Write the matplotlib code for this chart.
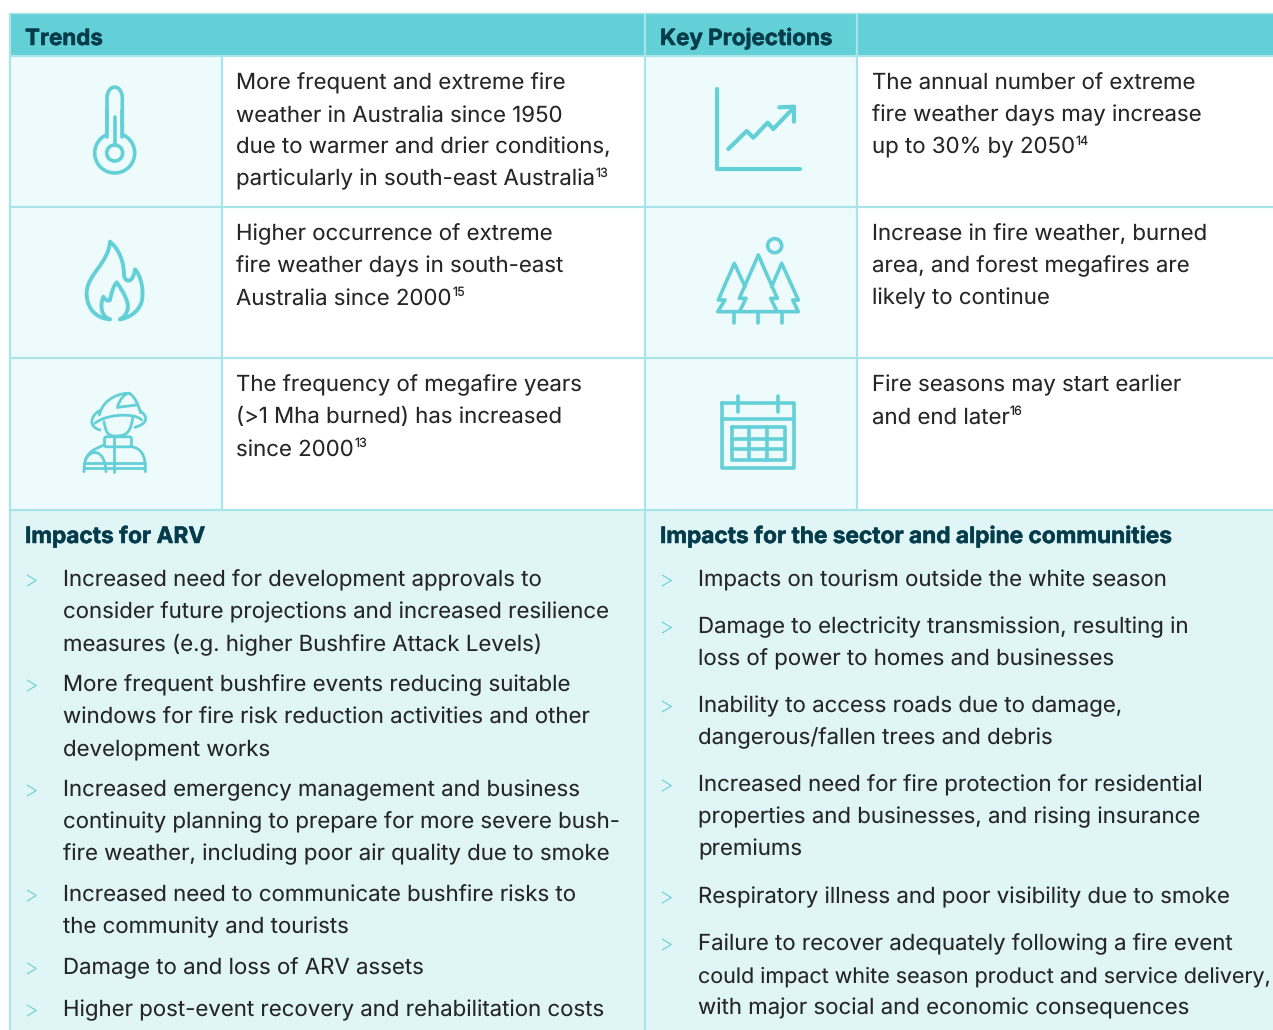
import matplotlib
matplotlib.use('Agg')
import matplotlib.pyplot as plt
from matplotlib.path import Path
from matplotlib.patches import PathPatch, Rectangle, Circle, FancyBboxPatch
import matplotlib.patheffects as pe

plt.rcParams['font.family'] = ['Inter', 'DejaVu Sans']
plt.rcParams['text.hinting'] = 'none'
plt.rcParams['text.hinting_factor'] = 1

# table text
headers = ['Trends', 'Key Projections']
trends = [
    (['More frequent and extreme fire', 'weather in Australia since 1950', 'due to warmer and drier conditions,',
      'particularly in south-east Australia'], '13'),
    (['Higher occurrence of extreme', 'fire weather days in south-east', 'Australia since 2000'], '15'),
    (['The frequency of megafire years', '(>1 Mha burned) has increased', 'since 2000'], '13'),
]
projections = [
    (['The annual number of extreme', 'fire weather days may increase', 'up to 30% by 2050'], '14'),
    (['Increase in fire weather, burned', 'area, and forest megafires are', 'likely to continue'], ''),
    (['Fire seasons may start earlier', 'and end later'], '16'),
]
impact_titles = ['Impacts for ARV', 'Impacts for the sector and alpine communities']
impacts_arv = [
    ['Increased need for development approvals to', 'consider future projections and increased resilience',
     'measures (e.g. higher Bushfire Attack Levels)'],
    ['More frequent bushfire events reducing suitable', 'windows for fire risk reduction activities and other',
     'development works'],
    ['Increased emergency management and business', 'continuity planning to prepare for more severe bush-',
     'fire weather, including poor air quality due to smoke'],
    ['Increased need to communicate bushfire risks to', 'the community and tourists'],
    ['Damage to and loss of ARV assets'],
    ['Higher post-event recovery and rehabilitation costs'],
]
impacts_sector = [
    ['Impacts on tourism outside the white season'],
    ['Damage to electricity transmission, resulting in', 'loss of power to homes and businesses'],
    ['Inability to access roads due to damage,', 'dangerous/fallen trees and debris'],
    ['Increased need for fire protection for residential', 'properties and businesses, and rising insurance',
     'premiums'],
    ['Respiratory illness and poor visibility due to smoke'],
    ['Failure to recover adequately following a fire event', 'could impact white season product and service delivery,',
     'with major social and economic consequences'],
]
arv_y = [586.3, 691.3, 796.3, 901.3, 974.3, 1016.3]
sector_y = [586.3, 633.3, 712.3, 791.3, 903.3, 950.3]

TEAL = '#63CFD6'
LINE = '#A9E4E9'
CELL = '#EEFBFC'
PANEL = '#DFF5F6'
DARK = '#053C4B'
INK = '#262626'
FS = 16.0
LEAD = 32
RIGHT = 1271

fig = plt.figure(figsize=(12.73, 10.30), dpi=100)
ax = fig.add_axes([0, 0, 1, 1])
ax.set_xlim(0, 1273)
ax.set_ylim(1030, 0)
ax.axis('off')

# backgrounds
ax.add_patch(Rectangle((10, 13), 1263, 42, fc=TEAL, ec='none'))
ax.add_patch(Rectangle((10, 55), 211, 455, fc=CELL, ec='none'))
ax.add_patch(Rectangle((645, 55), 212, 455, fc=CELL, ec='none'))
ax.add_patch(Rectangle((10, 510), 1263, 520, fc=PANEL, ec='none'))

# grid lines
for y in [13, 55.5, 207, 358, 509.5]:
    ax.plot([10, 1273], [y, y], color=LINE, lw=1.6 if y > 13 else 1, solid_capstyle='butt')
for x, y0 in [(10, 13), (645, 13), (857, 13), (221.5, 55)]:
    ax.plot([x, x], [y0, 510], color=LINE, lw=1.6, solid_capstyle='butt')
ax.plot([10, 10], [510, 1030], color=LINE, lw=1.6)
ax.plot([645, 645], [510, 1030], color=LINE, lw=1.6)


def put_lines(x, y, lines, sup=''):
    t = None
    for i, s in enumerate(lines):
        t = ax.text(x, y + i * LEAD, s, fontsize=FS, color=INK, va='baseline', ha='left')
        box = t.get_window_extent(fig.canvas.get_renderer())
        # the long delivery line is set tighter in the original
        if box.x1 > RIGHT:
            t.set_fontsize(FS * (RIGHT - x) / box.width)
    if sup:
        box = t.get_window_extent(fig.canvas.get_renderer())
        ax.text(box.x1 + 0.5, y + (len(lines) - 1) * LEAD - 8.5, sup, fontsize=9.0, color=INK,
                va='baseline', ha='left')


def put_title(x, y, s, size):
    ax.text(x, y, s, fontsize=size, fontweight='bold', color=DARK, va='baseline',
            path_effects=[pe.withStroke(linewidth=0.35, foreground=DARK)])


# headers
put_title(25, 45, headers[0], 16.1)
put_title(660, 45, headers[1], 16.1)

row_y = [89.3, 240.3, 391.3]
for (lines, sup), y in zip(trends, row_y):
    put_lines(236.5, y, lines, sup)
for (lines, sup), y in zip(projections, row_y):
    put_lines(871.5, y, lines, sup)

# impacts
put_title(25, 543, impact_titles[0], 16.3)
put_title(660, 543, impact_titles[1], 16.3)
for item, y in zip(impacts_arv, arv_y):
    ax.text(23, y + 1, '>', fontsize=16.5, color=TEAL, va='baseline', fontweight='light')
    put_lines(63, y, item)
for item, y in zip(impacts_sector, sector_y):
    ax.text(658, y + 1, '>', fontsize=16.5, color=TEAL, va='baseline', fontweight='light')
    put_lines(698, y, item)


# icons, coordinates are in 3x zoomed pixels of the icon crop
def pline(ox, oy, pts, lw=2.6, closed=False):
    xs = [ox + p[0] / 3 for p in pts]
    ys = [oy + p[1] / 3 for p in pts]
    if closed:
        xs.append(xs[0])
        ys.append(ys[0])
    ax.plot(xs, ys, color=TEAL, lw=lw, solid_capstyle='round', solid_joinstyle='round')


def curve(ox, oy, pts, lw=2.6):
    # first point then groups of three bezier points
    v = [(ox + p[0] / 3, oy + p[1] / 3) for p in pts]
    c = [Path.MOVETO] + [Path.CURVE4] * (len(v) - 1)
    ax.add_patch(PathPatch(Path(v, c), fc='none', ec=TEAL, lw=lw, capstyle='round', joinstyle='round'))


# thermometer
curve(0, 0, [(321, 410), (321, 410), (321, 300), (321, 295), (321, 250), (367, 250), (367, 295),
             (367, 300), (367, 410), (367, 410)])
ax.add_patch(Circle((114.7, 153), 20, fc=CELL, ec=TEAL, lw=2.6))
ax.add_patch(Rectangle((107.5, 125), 14.5, 18, fc=CELL, ec='none'))
pline(0, 0, [(321, 330), (321, 412)])
pline(0, 0, [(367, 330), (367, 412)])
ax.add_patch(Circle((114.7, 153), 8, fc='none', ec=TEAL, lw=2.6))
pline(0, 0, [(344, 352), (344, 435)])

# flame
curve(40, 220, [(210, 298), (160, 295), (138, 255), (140, 215), (145, 160), (205, 130), (210, 65),
                (240, 90), (252, 130), (252, 165), (255, 190), (280, 190), (285, 148),
                (305, 170), (312, 215), (305, 245), (295, 280), (260, 295), (240, 298)], lw=2.8)
curve(40, 220, [(210, 298), (185, 290), (178, 260), (190, 230), (195, 240), (205, 245), (210, 240),
                (215, 215), (222, 195), (230, 187), (250, 215), (270, 250), (262, 270),
                (258, 285), (250, 293), (240, 298)], lw=2.8)

# firefighter
curve(40, 220, [(178, 585), (190, 530), (250, 518), (268, 520), (285, 530), (295, 555), (302, 578)], lw=2)
curve(40, 220, [(232, 562), (240, 535), (255, 520), (268, 520)], lw=2)
pline(40, 220, [(232, 562), (290, 555)], lw=2)
curve(40, 220, [(178, 572), (150, 590), (145, 620), (180, 630)], lw=2)
curve(40, 220, [(300, 572), (325, 590), (325, 610), (285, 622)], lw=2)
curve(40, 220, [(165, 610), (190, 585), (280, 575), (305, 600)], lw=2)
curve(40, 220, [(192, 605), (198, 640), (205, 648), (225, 648), (250, 648), (270, 648), (278, 595)], lw=2)
ax.add_patch(FancyBboxPatch((40 + 195 / 3, 220 + 652 / 3), 26, 9, boxstyle='round,pad=0.5,rounding_size=2',
                            fc='none', ec=TEAL, lw=2))
curve(40, 220, [(192, 675), (160, 690), (132, 695), (132, 755)], lw=2)
curve(40, 220, [(275, 680), (300, 685), (318, 700), (316, 755)], lw=2)
curve(40, 220, [(135, 722), (150, 685), (195, 685), (198, 755)], lw=2)
pline(40, 220, [(222, 652), (222, 755)], lw=2)
pline(40, 220, [(132, 728), (316, 728)], lw=2)
pline(40, 220, [(132, 745), (316, 745)], lw=2)

# rising chart
pline(680, 70, [(112, 58), (112, 298), (360, 298)], lw=3)
pline(680, 70, [(145, 237), (200, 183), (220, 203), (263, 158), (280, 177), (342, 112)], lw=3)
pline(680, 70, [(298, 112), (342, 110), (342, 155)], lw=3)

# trees
pline(680, 70, [(180, 722), (198, 685), (178, 685), (235, 555), (292, 685), (272, 685), (290, 722)])
pline(680, 70, [(195, 650), (163, 580), (115, 690), (135, 690), (113, 725), (355, 725), (338, 690),
                (355, 690), (305, 580), (275, 650)])
for tx in [163, 234, 305]:
    pline(680, 70, [(tx, 725), (tx, 760)])
ax.add_patch(Circle((680 + 284 / 3, 70 + 527 / 3), 7, fc='none', ec=TEAL, lw=2.6))

# calendar
pline(680, 70, [(127, 1000), (343, 1000), (343, 1195), (127, 1195)], closed=True)
pline(680, 70, [(127, 1047), (343, 1047)])
for tx in [173, 293]:
    pline(680, 70, [(tx, 978), (tx, 1025)])
pline(680, 70, [(157, 1072), (314, 1072), (314, 1170), (157, 1170)], closed=True)
for gy in [1108, 1138]:
    pline(680, 70, [(157, gy), (314, gy)])
for gx in [207, 260]:
    pline(680, 70, [(gx, 1072), (gx, 1170)])

fig.savefig('out.png', dpi=100)
